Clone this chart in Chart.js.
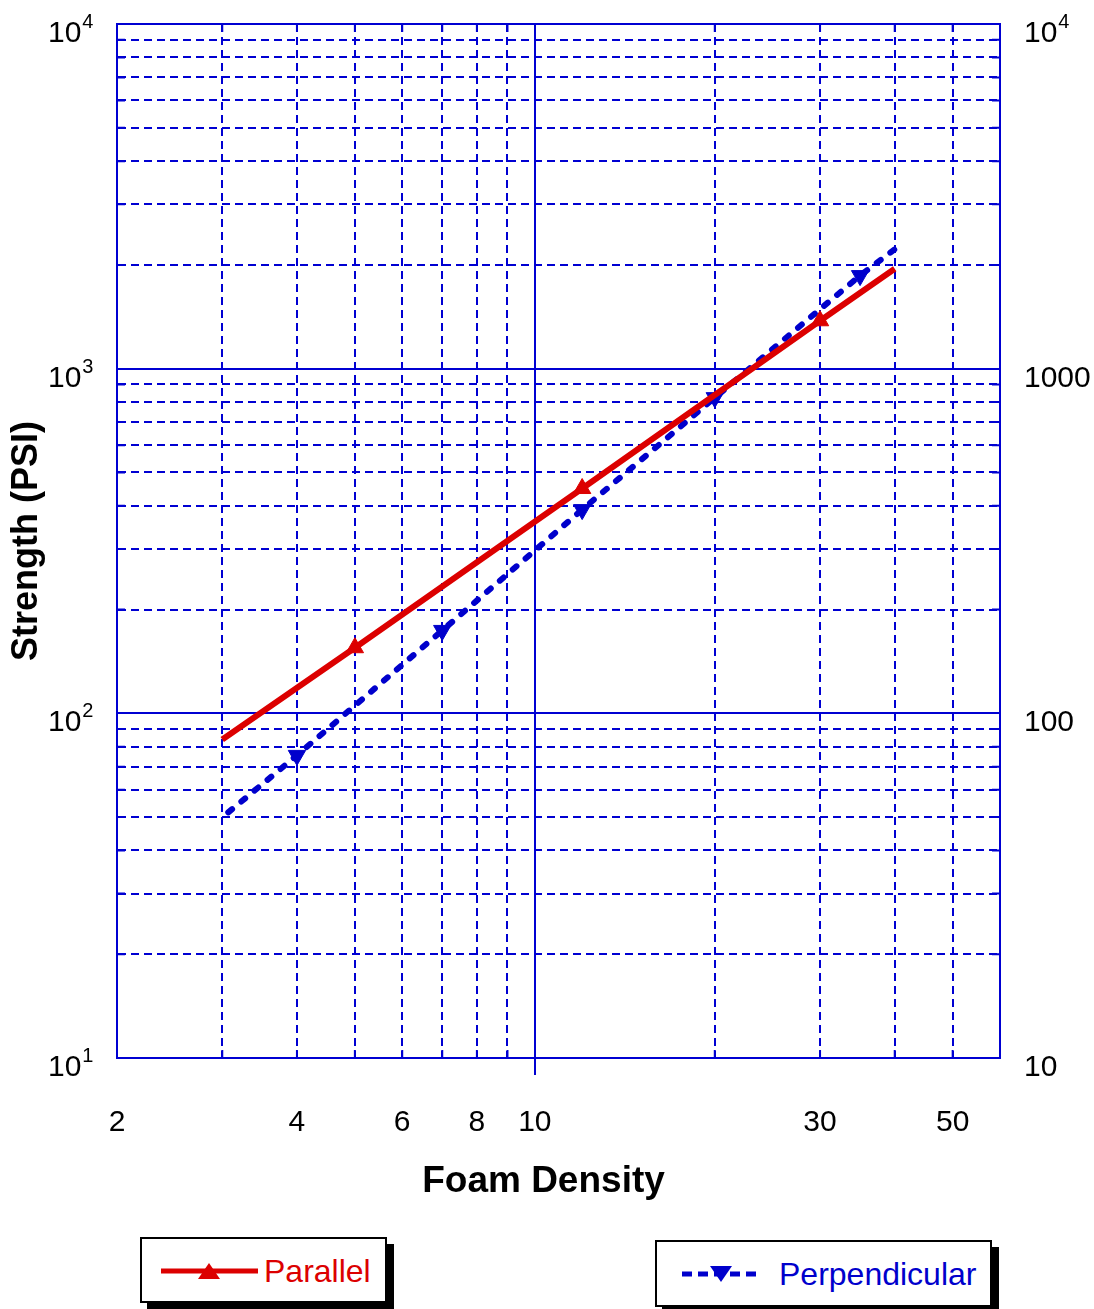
<!DOCTYPE html>
<html>
<head>
<meta charset="utf-8">
<script src="https://cdn.jsdelivr.net/npm/chart.js@4.4.1/dist/chart.umd.min.js"></script>
<style>
  body { margin: 0; background: #fff; font-family: "Liberation Sans", Arial, sans-serif; }
  #wrap { position: relative; width: 1094px; height: 1309px; overflow: hidden; }
  #c { position: absolute; left: 0; top: 0; }
  .leg { position: absolute; background: #fff; border: 2px solid #000; box-shadow: 7px 7px 0 #000; box-sizing: border-box; }
  .leg span { position: absolute; font-size: 32px; line-height: 32px; white-space: nowrap; }
  .leg svg { position: absolute; left: 0; top: 0; }
</style>
</head>
<body>
<div id="wrap">
  <canvas id="c" width="1094" height="1215"></canvas>
  <div class="leg" id="leg0" style="left:140px;top:1237px;width:247px;height:66px"></div>
  <div class="leg" id="leg1" style="left:655px;top:1240px;width:337px;height:67px"></div>
</div>
<script>
// Strength vs foam density, log-log
const seriesNames = ['Parallel', 'Perpendicular'];
const parallelX = [3, 5, 12, 30, 40];
const parallelY = [84, 155, 449, 1377, 1950];
const perpX = [3.07, 4, 7, 12, 20, 35, 40];
const perpY = [51.6, 75.5, 174, 390, 824, 1862, 2220];

const xMin = 2, xMax = 60;
const yMin = 10, yMax = 10000;
const xTickLabels = [2, 4, 6, 8, 10, 30, 50];
const yDecades = [10, 100, 1000, 10000];
const yLeftLabels = [['10', '1'], ['10', '2'], ['10', '3'], ['10', '4']];
const yRightLabels = [['10', ''], ['100', ''], ['1000', ''], ['10', '4']];
const xTitle = 'Foam Density';

const GRID = '#0000d2';
const RED = '#dc0000';
const BLUE = '#0000cc';
const FONT = '"Liberation Sans", Arial, sans-serif';

const near = (a, b) => Math.abs(a - b) / b < 1e-6;
const isMajorX = v => near(v, 10) || near(v, xMin) || near(v, xMax);
const isMajorY = v => yDecades.some(d => near(v, d));

// keep only 1..9 x 10^n ticks (drop the 1.5, 15 ... extras)
const wholeTicks = s => {
  s.ticks = s.ticks.filter(t => {
    const e = Math.pow(10, Math.floor(Math.log10(t.value) + 1e-9));
    const m = t.value / e;
    return Math.abs(m - Math.round(m)) < 1e-6;
  });
};

const toPts = (xs, ys) => xs.map((x, i) => ({ x, y: ys[i] }));
const innerOnly = r => ctx => (ctx.dataIndex === 0 || ctx.dataIndex === ctx.dataset.data.length - 1) ? 0 : r;

const decoPlugin = {
  id: 'deco',
  afterDraw(chart) {
    const { ctx, chartArea: a, scales } = chart;
    const x = scales.x, y = scales.y;
    ctx.save();
    // short solid ticks on the inside of the frame
    ctx.strokeStyle = GRID;
    ctx.lineWidth = 2;
    ctx.beginPath();
    x.ticks.forEach(t => {
      if (isMajorX(t.value)) return;
      const px = x.getPixelForValue(t.value);
      ctx.moveTo(px, a.bottom); ctx.lineTo(px, a.bottom - 8);
      ctx.moveTo(px, a.top); ctx.lineTo(px, a.top + 8);
    });
    y.ticks.forEach(t => {
      if (isMajorY(t.value)) return;
      const py = y.getPixelForValue(t.value);
      ctx.moveTo(a.left, py); ctx.lineTo(a.left + 8, py);
      ctx.moveTo(a.right, py); ctx.lineTo(a.right - 8, py);
    });
    ctx.stroke();

    // decade labels with superscripts
    ctx.fillStyle = '#000';
    ctx.textAlign = 'left';
    ctx.textBaseline = 'alphabetic';
    const drawLab = (lab, left, py) => {
      ctx.font = '30px ' + FONT;
      ctx.fillText(lab[0], left, py + 18);
      if (lab[1]) {
        const w = ctx.measureText(lab[0]).width;
        ctx.font = '20px ' + FONT;
        ctx.fillText(lab[1], left + w + 1, py + 4);
      }
    };
    yDecades.forEach((v, i) => {
      const py = y.getPixelForValue(v);
      drawLab(yLeftLabels[i], 48, py);
      drawLab(yRightLabels[i], a.right + 24, py);
    });

    // x axis title
    ctx.font = 'bold 37px ' + FONT;
    ctx.textAlign = 'center';
    ctx.fillText(xTitle, (a.left + a.right) / 2 - 15, 1192);
    ctx.restore();
  }
};

new Chart(document.getElementById('c'), {
  type: 'line',
  data: {
    datasets: [
      {
        label: seriesNames[0],
        data: toPts(parallelX, parallelY),
        borderColor: RED, backgroundColor: RED,
        borderWidth: 6, borderCapStyle: 'butt',
        pointStyle: 'triangle', pointRadius: innerOnly(10), pointHoverRadius: 0,
        pointBorderWidth: 1, pointBorderColor: RED, pointBackgroundColor: RED,
        tension: 0,
      },
      {
        label: seriesNames[1],
        data: toPts(perpX, perpY),
        borderColor: BLUE, backgroundColor: BLUE,
        borderWidth: 6, borderDash: [5, 12], borderCapStyle: 'round',
        pointStyle: 'triangle', pointRotation: 180, pointRadius: innerOnly(10), pointHoverRadius: 0,
        pointBorderWidth: 1, pointBorderColor: BLUE, pointBackgroundColor: BLUE,
        tension: 0,
      },
    ],
  },
  options: {
    responsive: false,
    animation: false,
    devicePixelRatio: 1,
    layout: { padding: { top: 24, left: 0, right: 0, bottom: 0 } },
    plugins: { legend: { display: false }, tooltip: { enabled: false } },
    scales: {
      x: {
        type: 'logarithmic', position: 'bottom', min: xMin, max: xMax,
        afterBuildTicks: wholeTicks,
        afterFit: s => { s.height = 157; },
        grid: {
          color: GRID, lineWidth: 2,
          drawTicks: true, tickLength: 17, tickWidth: 2,
          tickColor: c => (c.tick && near(c.tick.value, 10)) ? GRID : 'rgba(0,0,0,0)',
        },
        border: { display: true, color: GRID, width: 2, dash: c => (c.tick && !isMajorX(c.tick.value)) ? [8, 5] : [] },
        ticks: {
          autoSkip: false, maxRotation: 0, padding: 30, color: '#000',
          font: { family: FONT, size: 30 },
          callback: v => xTickLabels.some(t => near(v, t)) ? String(xTickLabels.find(t => near(v, t))) : '',
        },
      },
      y: {
        type: 'logarithmic', position: 'left', min: yMin, max: yMax,
        afterBuildTicks: wholeTicks,
        afterFit: s => { s.width = 117; },
        grid: { color: GRID, lineWidth: 2, drawTicks: false },
        border: { display: true, color: GRID, width: 2, dash: c => (c.tick && !isMajorY(c.tick.value)) ? [8, 5] : [] },
        ticks: { display: false },
        title: { display: true, text: 'Strength (PSI)', color: '#000', font: { family: FONT, size: 36, weight: 'bold' }, padding: { top: 5, bottom: 0 } },
      },
      y2: {
        type: 'logarithmic', position: 'right', min: yMin, max: yMax,
        afterFit: s => { s.width = 94; },
        grid: { drawOnChartArea: false, drawTicks: false },
        border: { display: true, color: GRID, width: 2 },
        ticks: { display: false },
      },
    },
  },
  plugins: [decoPlugin],
});

// legend boxes
const legendSpec = [
  { color: RED, dash: '', rot: 0, lineX: [19, 116], tri: 67, textX: 122 },
  { color: BLUE, dash: '10 6', rot: 180, lineX: [25, 105], tri: 64, textX: 122 },
];
legendSpec.forEach((s, i) => {
  const box = document.getElementById('leg' + i);
  const cy = 32;
  const h = 8, w = 11;
  const pts = s.rot === 0
    ? `${s.tri - w},${cy + h} ${s.tri + w},${cy + h} ${s.tri},${cy - h}`
    : `${s.tri - w},${cy - h} ${s.tri + w},${cy - h} ${s.tri},${cy + h}`;
  box.innerHTML =
    `<svg width="${box.clientWidth}" height="${box.clientHeight}">` +
    `<line x1="${s.lineX[0]}" y1="${cy}" x2="${s.lineX[1]}" y2="${cy}" stroke="${s.color}" stroke-width="5" ${s.dash ? `stroke-dasharray="${s.dash}"` : ''}/>` +
    `<polygon points="${pts}" fill="${s.color}"/></svg>` +
    `<span style="left:${s.textX}px;top:16px;color:${s.color}">${seriesNames[i]}</span>`;
});
</script>
</body>
</html>
